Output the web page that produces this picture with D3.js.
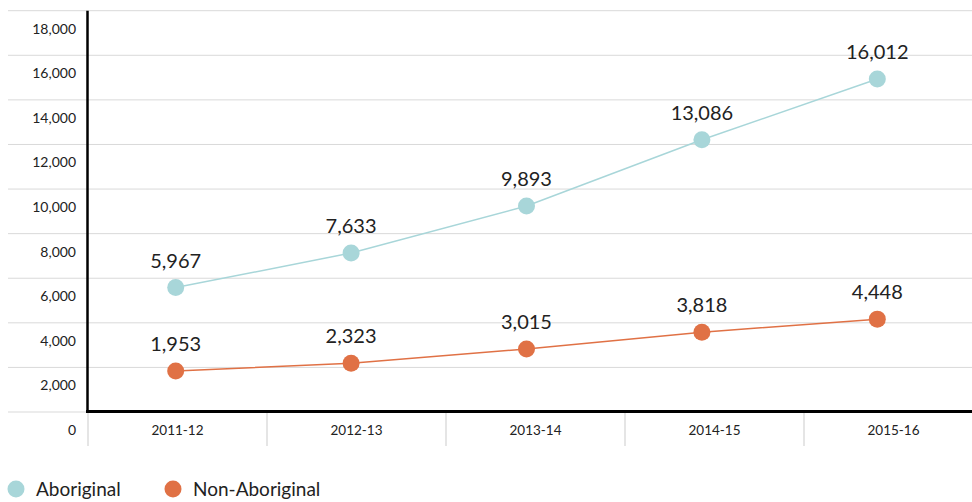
<!DOCTYPE html>
<html>
<head>
<meta charset="utf-8">
<script src="https://cdn.jsdelivr.net/npm/d3@7/dist/d3.min.js"></script>
<style>
    body { margin: 0; background: #fff; }
    svg { display: block; font-family: Lato, "Open Sans", sans-serif; }
    .grid line { stroke: #d9d9d9; stroke-width: 1; }
    .ticklabel { font-size: 14px; fill: #222; }
    .catlabel { font-size: 13.5px; fill: #222; }
    .valuelabel { font-size: 20px; fill: #222; }
    .legend text { font-size: 19px; fill: #222; }
</style>
</head>
<body>
<svg></svg>
<script>
// chart data
var years = ["2011-12", "2012-13", "2013-14", "2014-15", "2015-16"];
var aboriginal = [5967, 7633, 9893, 13086, 16012];
var nonAboriginal = [1953, 2323, 3015, 3818, 4448];
var yTicks = [0, 2000, 4000, 6000, 8000, 10000, 12000, 14000, 16000, 18000];
var seriesNames = ["Aboriginal", "Non-Aboriginal"];
var seriesColors = ["#a8d6d9", "#e07145"];

const width = 972, height = 502;
const svg = d3.select("svg")
    .attr("width", width)
    .attr("height", height);

// grid scale (axis labels) and the plotted-point scale of the original are not quite the same
const yGrid = d3.scaleLinear().domain([0, 18000]).range([412, 10.7]);
const yPts = d3.scaleLinear().domain([0, 19300]).range([411.5, 10.7]);

const xBand = d3.scaleBand().domain(years).range([88, 983]);        // category cells under the axis
const xPts = d3.scalePoint().domain(years).range([88, 965]).padding(0.5);

const fmt = d3.format(",");

// horizontal gridlines
svg.append("g")
    .attr("class", "grid")
    .selectAll("line")
    .data(yTicks)
    .enter().append("line")
    .attr("x1", 8)
    .attr("x2", width)
    .attr("y1", d => yGrid(d))
    .attr("y2", d => yGrid(d));

// y labels sit below their gridline
svg.append("g")
    .selectAll("text")
    .data(yTicks)
    .enter().append("text")
    .attr("class", "ticklabel")
    .attr("text-anchor", "end")
    .attr("x", 76)
    .attr("y", d => yGrid(d) + 23)
    .text(d => fmt(d));

// category separators
svg.append("g")
    .selectAll("line")
    .data(years)
    .enter().append("line")
    .attr("x1", d => xBand(d))
    .attr("x2", d => xBand(d))
    .attr("y1", 412)
    .attr("y2", 446)
    .attr("stroke", "#dcdcdc")
    .attr("stroke-width", 1.5);

svg.append("g")
    .selectAll("text")
    .data(years)
    .enter().append("text")
    .attr("class", "catlabel")
    .attr("text-anchor", "middle")
    .attr("x", d => xBand(d) + xBand.bandwidth() / 2)
    .attr("y", 435)
    .text(d => d);

// axis lines
svg.append("line")
    .attr("x1", 87.5).attr("x2", 87.5)
    .attr("y1", yGrid(18000)).attr("y2", 412.5)
    .attr("stroke", "#000").attr("stroke-width", 2.5);
svg.append("line")
    .attr("x1", 86).attr("x2", width)
    .attr("y1", 411.5).attr("y2", 411.5)
    .attr("stroke", "#000").attr("stroke-width", 3);

// series
const series = [aboriginal, nonAboriginal];
const line = d3.line()
    .x((d, i) => xPts(years[i]))
    .y(d => yPts(d));

series.forEach(function (vals, s) {
    const g = svg.append("g");
    g.append("path")
        .datum(vals)
        .attr("d", line)
        .attr("fill", "none")
        .attr("stroke", seriesColors[s])
        .attr("stroke-width", 1.5);

    g.selectAll("circle")
        .data(vals)
        .enter().append("circle")
        .attr("cx", (d, i) => xPts(years[i]))
        .attr("cy", d => yPts(d))
        .attr("r", 8.5)
        .attr("fill", seriesColors[s]);

    g.selectAll("text")
        .data(vals)
        .enter().append("text")
        .attr("class", "valuelabel")
        .attr("text-anchor", "middle")
        .attr("x", (d, i) => xPts(years[i]))
        .attr("y", d => yPts(d) - 20)
        .text(d => fmt(d));
});

// legend (kept just inside the bottom edge)
const legend = svg.append("g").attr("class", "legend");
const legendX = [16, 173];
seriesNames.forEach(function (name, s) {
    legend.append("circle")
        .attr("cx", legendX[s])
        .attr("cy", 489)
        .attr("r", 8.5)
        .attr("fill", seriesColors[s]);
    legend.append("text")
        .attr("x", legendX[s] + 20)
        .attr("y", 496)
        .text(name);
});
</script>
</body>
</html>
